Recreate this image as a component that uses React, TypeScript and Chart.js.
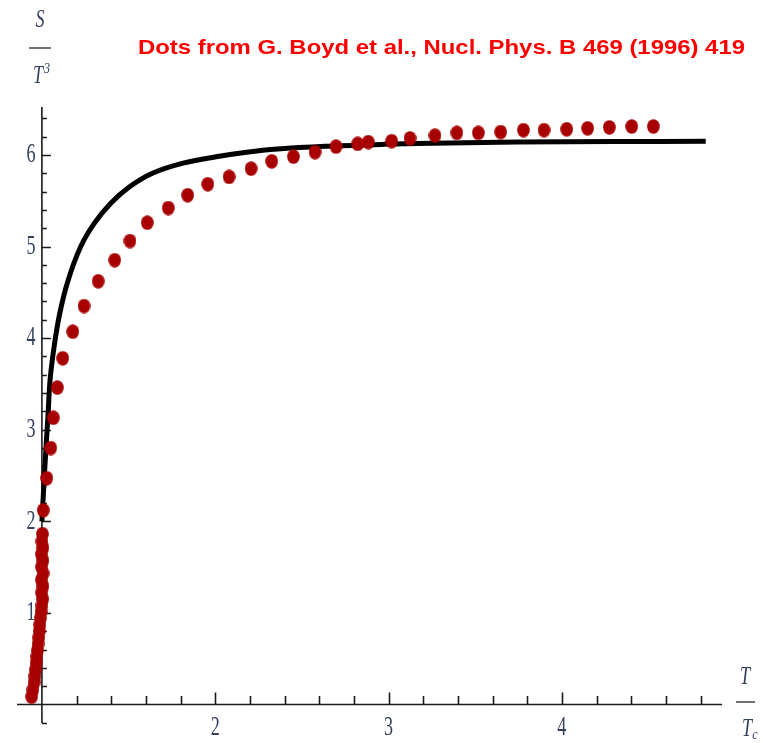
import React, { useEffect, useRef } from "react";
import { Chart, registerables } from "chart.js";

Chart.register(...registerables);

// Lattice data (red dots): T/Tc and S/T^3
const dotT = [
  0.941, 0.948, 0.955, 0.96, 0.963, 0.967, 0.97, 0.974, 0.978, 0.982, 0.985, 0.988, 0.991, 0.995, 1.0,
  1.005, 0.998, 1.006, 0.997, 1.007, 0.998, 1.006, 0.997, 1.006, 1.0, 1.003,
  1.008, 1.028, 1.051, 1.066, 1.089, 1.12, 1.178, 1.243, 1.325, 1.42, 1.508, 1.608, 1.729, 1.841, 1.957,
  2.08, 2.207, 2.326, 2.451, 2.576, 2.697, 2.822, 2.883, 3.018, 3.124, 3.268, 3.394, 3.518, 3.647, 3.778,
  3.897, 4.028, 4.149, 4.274, 4.403, 4.528,
];
const dotS = [
  0.085, 0.16, 0.24, 0.31, 0.38, 0.45, 0.52, 0.59, 0.66, 0.73, 0.8, 0.87, 0.94, 1.01, 1.08,
  1.15, 1.22, 1.29, 1.36, 1.43, 1.5, 1.57, 1.64, 1.71, 1.78, 1.86,
  2.12, 2.47, 2.8, 3.13, 3.46, 3.78, 4.07, 4.35, 4.62, 4.85, 5.06, 5.26, 5.42, 5.56, 5.68,
  5.76, 5.85, 5.93, 5.98, 6.03, 6.09, 6.12, 6.14, 6.15, 6.18, 6.21, 6.24, 6.24, 6.25, 6.27,
  6.27, 6.28, 6.29, 6.3, 6.31, 6.31,
];

// Model curve (black line)
const curveT = [
  1.0, 1.012, 1.024, 1.036, 1.047, 1.07, 1.103, 1.151, 1.224, 1.301, 1.396, 1.504, 1.638, 1.814, 2.005,
  2.18, 2.36, 2.65, 2.97, 3.35, 3.74, 4.3, 4.83,
];
const curveS = [
  2.0, 2.42, 2.82, 3.18, 3.54, 3.9, 4.27, 4.63, 5.0, 5.25, 5.47, 5.65, 5.8, 5.91, 5.98,
  6.03, 6.065, 6.095, 6.115, 6.13, 6.14, 6.145, 6.15,
];

const xMajorTicks = [2, 3, 4];
const xTickLabels = ["2", "3", "4"];
const yMajorTicks = [1, 2, 3, 4, 5, 6];
const yTickLabels = ["1", "2", "3", "4", "5", "6"];
const titleText = "Dots from G. Boyd et al., Nucl. Phys. B 469 (1996) 419";

const LABEL_COLOR = "#34405f";
const TITLE_COLOR = "#ff0000";
const DOT_COLOR = "#a80000";

function drawStretched(
  ctx: CanvasRenderingContext2D,
  text: string,
  x: number,
  y: number,
  font: string,
  sx: number,
  sy: number,
  align: CanvasTextAlign,
  color: string
) {
  ctx.save();
  ctx.translate(x, y);
  ctx.scale(sx, sy);
  ctx.font = font;
  ctx.fillStyle = color;
  ctx.textAlign = align;
  ctx.textBaseline = "middle";
  ctx.fillText(text, 0, 0);
  ctx.restore();
}

export default function App() {
  const ref = useRef<HTMLCanvasElement>(null);

  useEffect(() => {
    const canvas = ref.current;
    if (!canvas) return;

    const dot = document.createElement("canvas");
    dot.width = 13;
    dot.height = 15;
    const dctx = dot.getContext("2d")!;
    dctx.fillStyle = DOT_COLOR;
    dctx.beginPath();
    dctx.ellipse(6.5, 7.5, 6.3, 7.3, 0, 0, Math.PI * 2);
    dctx.fill();

    const axesPlugin = {
      id: "mmaAxes",
      beforeDatasetsDraw(chart: any) {
        const ctx: CanvasRenderingContext2D = chart.ctx;
        const xs = chart.scales.x;
        const ys = chart.scales.y;
        const area = chart.chartArea;
        const x0 = xs.getPixelForValue(1);
        const y0 = ys.getPixelForValue(0);
        ctx.save();
        ctx.strokeStyle = "#1a1a1a";
        ctx.lineWidth = 1.6;
        ctx.beginPath();
        ctx.moveTo(area.left, y0);
        ctx.lineTo(area.right, y0);
        ctx.moveTo(x0, area.bottom);
        ctx.lineTo(x0, area.top);
        ctx.stroke();

        // x ticks (inward / upward)
        ctx.beginPath();
        for (let i = 6; i <= 24; i++) {
          const v = i / 5;
          const px = Math.round(xs.getPixelForValue(v)) + 0.5;
          const major = i % 5 === 0;
          ctx.moveTo(px, y0);
          ctx.lineTo(px, y0 - (major ? 12 : 8.5));
        }
        // y ticks (inward / rightward)
        for (let i = -1; i <= 32; i++) {
          if (i === 0) continue;
          const v = i / 5;
          const py = Math.round(ys.getPixelForValue(v)) + 0.5;
          const major = i % 5 === 0;
          ctx.moveTo(x0, py);
          ctx.lineTo(x0 + (major ? 9 : 5), py);
        }
        ctx.stroke();
        ctx.restore();

        const tickFont = '19px "Liberation Serif", "DejaVu Serif", serif';
        xMajorTicks.forEach((v, k) => {
          drawStretched(ctx, xTickLabels[k], xs.getPixelForValue(v), y0 + 23, tickFont, 0.95, 1.45, "center", LABEL_COLOR);
        });
        yMajorTicks.forEach((v, k) => {
          drawStretched(ctx, yTickLabels[k], x0 - 6.5, ys.getPixelForValue(v), tickFont, 0.95, 1.45, "right", LABEL_COLOR);
        });

        // axis labels  S / T^3  and  T / T_c
        const itFont = 'italic 19px "Liberation Serif", "DejaVu Serif", serif';
        const smallFont = 'italic 12px "Liberation Serif", "DejaVu Serif", serif';
        drawStretched(ctx, "S", 40, 20, itFont, 0.95, 1.35, "center", LABEL_COLOR);
        drawStretched(ctx, "T", 38, 76, itFont, 0.95, 1.35, "center", LABEL_COLOR);
        drawStretched(ctx, "3", 47, 69, smallFont, 1, 1.3, "center", LABEL_COLOR);
        drawStretched(ctx, "T", 745, 677, itFont, 0.95, 1.35, "center", LABEL_COLOR);
        drawStretched(ctx, "T", 747, 729, itFont, 0.95, 1.35, "center", LABEL_COLOR);
        drawStretched(ctx, "c", 755, 735, smallFont, 1, 1.3, "center", LABEL_COLOR);
        ctx.save();
        ctx.strokeStyle = "#444";
        ctx.lineWidth = 1.3;
        ctx.beginPath();
        ctx.moveTo(29, 48);
        ctx.lineTo(51, 48);
        ctx.moveTo(736, 702);
        ctx.lineTo(755, 702);
        ctx.stroke();
        ctx.restore();

        // title
        ctx.save();
        ctx.font = 'bold 21px "Liberation Sans", Arial, sans-serif';
        const w = ctx.measureText(titleText).width;
        ctx.translate(138, 53.5);
        ctx.scale(607 / w, 1);
        ctx.fillStyle = TITLE_COLOR;
        ctx.textAlign = "left";
        ctx.textBaseline = "alphabetic";
        ctx.fillText(titleText, 0, 0);
        ctx.restore();
      },
    };

    const chart = new Chart(canvas, {
      type: "scatter",
      data: {
        datasets: [
          {
            label: "Boyd et al.",
            data: dotT.map((t, i) => ({ x: t, y: dotS[i] })),
            pointStyle: dot as any,
            pointRadius: 7,
            showLine: false,
            clip: false as any,
          },
          {
            label: "model",
            data: curveT.map((t, i) => ({ x: t, y: curveS[i] })),
            showLine: true,
            borderColor: "#000000",
            borderWidth: 5,
            pointRadius: 0,
            tension: 0.4,
            borderCapStyle: "butt",
            borderJoinStyle: "round",
            clip: false as any,
          } as any,
        ],
      },
      options: {
        responsive: false,
        animation: false,
        layout: { padding: { left: 17, right: 52, top: 107, bottom: 20 } },
        scales: {
          x: { type: "linear", display: false, min: 0.8563, max: 4.924 },
          y: { type: "linear", display: false, min: -0.202, max: 6.523 },
        },
        plugins: {
          legend: { display: false },
          tooltip: { enabled: false },
        },
      },
      plugins: [axesPlugin],
    });

    return () => chart.destroy();
  }, []);

  return (
    <div style={{ position: "absolute", left: 0, top: 0, width: 774, height: 743, background: "#fff" }}>
      <canvas ref={ref} width={774} height={743} style={{ display: "block" }} />
    </div>
  );
}
